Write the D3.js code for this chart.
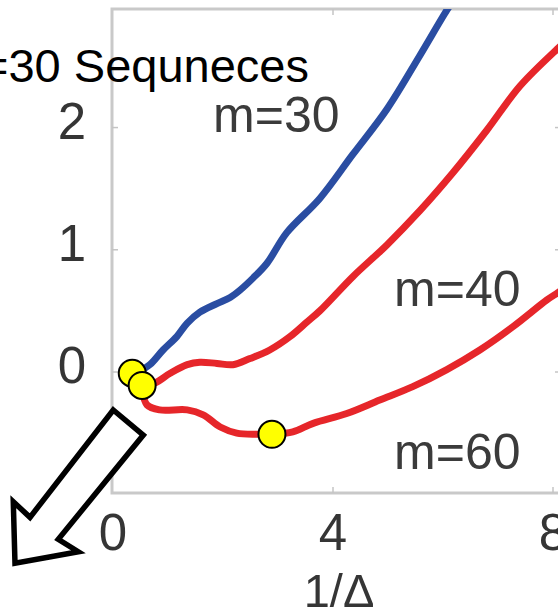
<!DOCTYPE html>
<html>
<head>
<meta charset="utf-8">
<script src="https://cdn.jsdelivr.net/npm/d3@7"></script>
<style>
  html, body { margin: 0; padding: 0; background: #fff; overflow: hidden; }
  svg { display: block; }
</style>
</head>
<body>
<svg id="chart" width="558" height="612"></svg>
<script>
// ---- data (x = 1/Δ, y = value) ----
const xTicks = [0, 4, 8];
const yTicks = [0, 1, 2];

const m30 = [[0.40,0.00],[0.49,0.01],[0.67,0.06],[0.91,0.18],[1.16,0.29],[1.35,0.40],[1.58,0.49],
             [1.89,0.56],[2.13,0.61],[2.31,0.67],[2.55,0.77],[2.80,0.89],[3.16,1.14],[3.76,1.42],
             [4.36,1.78],[4.98,2.15],[5.58,2.59],[6.07,2.96],[6.22,3.06]];
const m40 = [[0.53,-0.11],[0.76,-0.09],[1.04,-0.01],[1.35,0.06],[1.58,0.08],[1.89,0.07],[2.18,0.06],
             [2.49,0.11],[2.85,0.18],[3.22,0.29],[3.53,0.41],[3.76,0.50],[4.36,0.78],[4.98,1.04],
             [5.58,1.32],[6.18,1.63],[6.80,1.98],[7.40,2.34],[8.07,2.64],[8.22,2.70]];
const m60 = [[0.53,-0.14],[0.62,-0.27],[0.85,-0.31],[1.35,-0.31],[1.64,-0.35],[1.95,-0.45],[2.25,-0.50],
             [2.62,-0.51],[2.89,-0.51],[3.27,-0.49],[3.64,-0.42],[4.25,-0.34],[4.85,-0.23],[5.45,-0.12],
             [6.07,0.02],[6.67,0.18],[7.27,0.37],[7.89,0.59],[8.09,0.65],[8.24,0.70]];

const series = [
  { name: "m=30", points: m30, color: "#2a4ea2", label: [1.82, 1.96] },
  { name: "m=40", points: m40, color: "#e6252a", label: [5.11, 0.54] },
  { name: "m=60", points: m60, color: "#e6252a", label: [5.11, -0.79] }
];

// highlighted points
const markers = [[0.35, -0.01], [0.53, -0.11], [2.89, -0.51]];

// callout arrow outline, in data units
const arrowPts = [[0.005,-0.311],[0.551,-0.516],[-0.995,-1.369],[-0.631,-1.471],
                  [-1.782,-1.565],[-1.813,-1.061],[-1.509,-1.189]];

const titleText = "=30 Sequneces";
const xLabel = "1/Δ";

// ---- layout ----
const svg = d3.select("#chart");
const plot = { left: 112, top: 9, right: 561, bottom: 493 };

const x = d3.scaleLinear().domain([0, 8.15]).range([113, 561.25]);
const y = d3.scaleLinear().domain([-0.99, 2.97]).range([493, 9]);

const font = "'Liberation Sans', Arial, sans-serif";

const defs = svg.append("defs");
defs.append("clipPath").attr("id", "plotClip")
  .append("rect")
  .attr("x", plot.left).attr("y", plot.top)
  .attr("width", plot.right - plot.left).attr("height", plot.bottom - plot.top);
// the base figure is a soft raster: give it a light blur
defs.append("filter").attr("id", "soft")
  .attr("x", -0.05).attr("y", -0.05).attr("width", 1.1).attr("height", 1.1)
  .append("feGaussianBlur").attr("stdDeviation", 0.6);

const base = svg.append("g").attr("filter", "url(#soft)");

// frame
base.append("rect")
  .attr("x", plot.left).attr("y", plot.top)
  .attr("width", plot.right - plot.left).attr("height", plot.bottom - plot.top)
  .attr("fill", "none").attr("stroke", "#c9c9c9").attr("stroke-width", 3);

// inward tick marks on all four sides
const tickG = base.append("g").attr("stroke", "#c4c4c4").attr("stroke-width", 1.5);
xTicks.filter(d => d > 0).forEach(d => {
  tickG.append("line").attr("x1", x(d)).attr("x2", x(d)).attr("y1", plot.bottom).attr("y2", plot.bottom - 6);
  tickG.append("line").attr("x1", x(d)).attr("x2", x(d)).attr("y1", plot.top).attr("y2", plot.top + 6);
});
yTicks.forEach(d => {
  tickG.append("line").attr("x1", plot.left).attr("x2", plot.left + 6).attr("y1", y(d)).attr("y2", y(d));
  tickG.append("line").attr("x1", plot.right).attr("x2", plot.right - 6).attr("y1", y(d)).attr("y2", y(d));
});

// tick labels
base.append("g").selectAll("text").data(xTicks).join("text")
  .attr("x", d => x(d)).attr("y", 550)
  .attr("text-anchor", "middle")
  .attr("font-family", font).attr("font-size", 51).attr("fill", "#363636")
  .text(d => d);

base.append("g").selectAll("text").data(yTicks).join("text")
  .attr("x", 86).attr("y", d => y(d) + 11)
  .attr("text-anchor", "end")
  .attr("font-family", font).attr("font-size", 51).attr("fill", "#363636")
  .text(d => d);

// axis title
base.append("text")
  .attr("x", 339).attr("y", 607)
  .attr("text-anchor", "middle")
  .attr("font-family", font).attr("font-size", 47).attr("fill", "#363636")
  .text(xLabel);

// curves
const line = d3.line().x(d => x(d[0])).y(d => y(d[1])).curve(d3.curveCatmullRom.alpha(0.5));
base.append("g").attr("clip-path", "url(#plotClip)")
  .selectAll("path").data(series).join("path")
  .attr("d", d => line(d.points))
  .attr("fill", "none")
  .attr("stroke", d => d.color)
  .attr("stroke-width", 7)
  .attr("stroke-linejoin", "round")
  .attr("stroke-linecap", "round");

// curve labels
base.append("g").selectAll("text").data(series).join("text")
  .attr("x", d => x(d.label[0])).attr("y", d => y(d.label[1]))
  .attr("font-family", font).attr("font-size", 50).attr("fill", "#3a3a3a")
  .text(d => d.name);

// highlighted points
svg.append("g").selectAll("circle").data(markers).join("circle")
  .attr("cx", d => x(d[0])).attr("cy", d => y(d[1]))
  .attr("r", 13.5)
  .attr("fill", "#ffff00")
  .attr("stroke", "#000").attr("stroke-width", 2);

// title
svg.append("text")
  .attr("x", 309).attr("y", 82)
  .attr("text-anchor", "end")
  .attr("font-family", font).attr("font-size", 47).attr("fill", "#000")
  .text(titleText);

// callout arrow
svg.append("polygon")
  .attr("points", arrowPts.map(p => [x(p[0]), y(p[1])].join(",")).join(" "))
  .attr("fill", "#fff")
  .attr("stroke", "#000").attr("stroke-width", 5.5)
  .attr("stroke-linejoin", "miter");
</script>
</body>
</html>
